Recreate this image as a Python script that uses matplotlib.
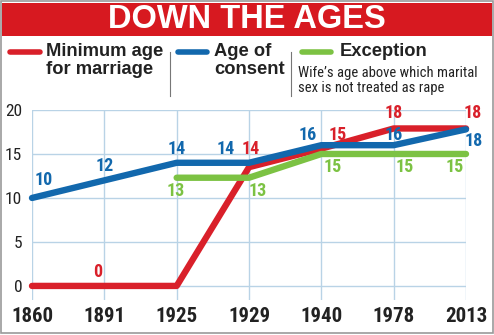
import matplotlib
matplotlib.use("Agg")
import matplotlib.pyplot as plt
from matplotlib.lines import Line2D
from matplotlib.patches import Rectangle

years = ["1860", "1891", "1925", "1929", "1940", "1978", "2013"]
yticks = [0, 5, 10, 15, 20]

# values as drawn
min_age = [0, 0, 0, 13.5, 15.6, 17.9, 17.9]
consent = [10, 12, 14, 14, 16, 16, 17.8]
exc_years_idx = [2, 3, 4, 5, 6]
exception = [12.3, 12.3, 15, 15, 15]

# printed labels
min_labels = ["", "0", "", "14", "15", "18", "18"]
consent_labels = ["10", "12", "14", "14", "16", "16", "18"]
exc_labels = ["13", "13", "15", "15", "15"]

RED = "#d9202a"
BLUE = "#1268ad"
GREEN = "#7cc243"
GRID = "#b9d3e6"
NARROW = ["Roboto Condensed", "Archivo Narrow", "PT Sans Narrow", "DejaVu Sans"]

fig = plt.figure(figsize=(4.94, 3.35), dpi=100)
W, H = 494, 335

def fx(px):
    return px / W

def fy(py):
    return 1 - py / H

# outer border
fig.patches.append(Rectangle((fx(1), fy(333)), fx(492), 332 / H, transform=fig.transFigure,
                             fill=False, edgecolor="#9a9a9a", lw=1.2))
# banner
fig.patches.append(Rectangle((fx(2), fy(36)), fx(490), 33 / H, transform=fig.transFigure,
                             facecolor="#d71920", edgecolor="none"))
fig.text(fx(247), fy(20), "DOWN THE AGES", color="white", fontsize=23.5, fontweight="heavy",
         family="Liberation Sans", ha="center", va="center")

# legend
def leg_line(x0, x1, color):
    fig.lines.append(Line2D([fx(x0), fx(x1)], [fy(52), fy(52)], transform=fig.transFigure,
                            color=color, lw=4.0, solid_capstyle="round"))

leg_line(10, 40, RED)
leg_line(178, 207, BLUE)
leg_line(302, 331, GREEN)
for sx in (170, 291):
    fig.lines.append(Line2D([fx(sx), fx(sx)], [fy(52), fy(96)], transform=fig.transFigure,
                            color="#777777", lw=0.8))

lkw = dict(fontsize=13.2, fontweight="bold", family="Liberation Sans", color="#222222",
           va="top", ha="left", linespacing=1.08)
fig.text(fx(46), fy(43), "Minimum age\nfor marriage", **lkw)
fig.text(fx(214), fy(43), "Age of\nconsent", **lkw)
fig.text(fx(340), fy(43), "Exception", **lkw)
fig.text(fx(298), fy(66), "Wife\u2019s age above which marital\nsex is not treated as rape",
         fontsize=10.5, family=NARROW, color="#222222", va="top", ha="left", linespacing=1.1)

# axes
ax = fig.add_axes([fx(32), fy(300), fx(466 - 32), (300 - 110) / H])
ax.set_xlim(0, len(years) - 1)
ax.set_ylim(-1.6, 20)
for s in ax.spines.values():
    s.set_visible(False)
ax.set_yticks(yticks)
ax.set_xticks(range(len(years)))
ax.set_xticklabels(years, fontsize=15, fontweight="heavy", family=NARROW, color="#222222")
ax.set_yticklabels([str(v) for v in yticks], fontsize=12.5, family=NARROW, color="#222222")
ax.tick_params(length=0, axis="x", pad=5)
ax.tick_params(length=0, axis="y", pad=7)
ax.grid(True, color=GRID, lw=1.0)
ax.set_axisbelow(True)

xs = list(range(len(years)))
ax.plot(xs, min_age, color=RED, lw=4.6, solid_capstyle="round", solid_joinstyle="round",
        clip_on=False, zorder=3)
ax.plot(exc_years_idx, exception, color=GREEN, lw=4.6, solid_capstyle="round",
        solid_joinstyle="round", clip_on=False, zorder=3)
ax.plot(xs, consent, color=BLUE, lw=4.6, solid_capstyle="round", solid_joinstyle="round",
        clip_on=False, zorder=4)

vkw = dict(fontsize=13, fontweight="heavy", family=NARROW, ha="center", va="center",
           textcoords="offset pixels", annotation_clip=False)
# offsets in pixels (dx, dy)
consent_off = [(12, 18), (0, 14), (0, 14), (-23, 14), (-14, 10), (0, 10), (8, -12)]
min_off = [(0, 0), (-7, 14), (0, 0), (2, 18), (16, 14), (0, 15), (7, 15)]
exc_off = [(-1, -13), (9, -13), (11, -13), (11, -13), (-11, -13)]

for i, lab in enumerate(consent_labels):
    ax.annotate(lab, (xs[i], consent[i]), xytext=consent_off[i], color=BLUE, **vkw)
for i, lab in enumerate(min_labels):
    if lab:
        ax.annotate(lab, (xs[i], min_age[i]), xytext=min_off[i], color=RED, **vkw)
for j, lab in enumerate(exc_labels):
    ax.annotate(lab, (exc_years_idx[j], exception[j]), xytext=exc_off[j], color=GREEN, **vkw)

fig.savefig("out.png", dpi=100, facecolor="white")
